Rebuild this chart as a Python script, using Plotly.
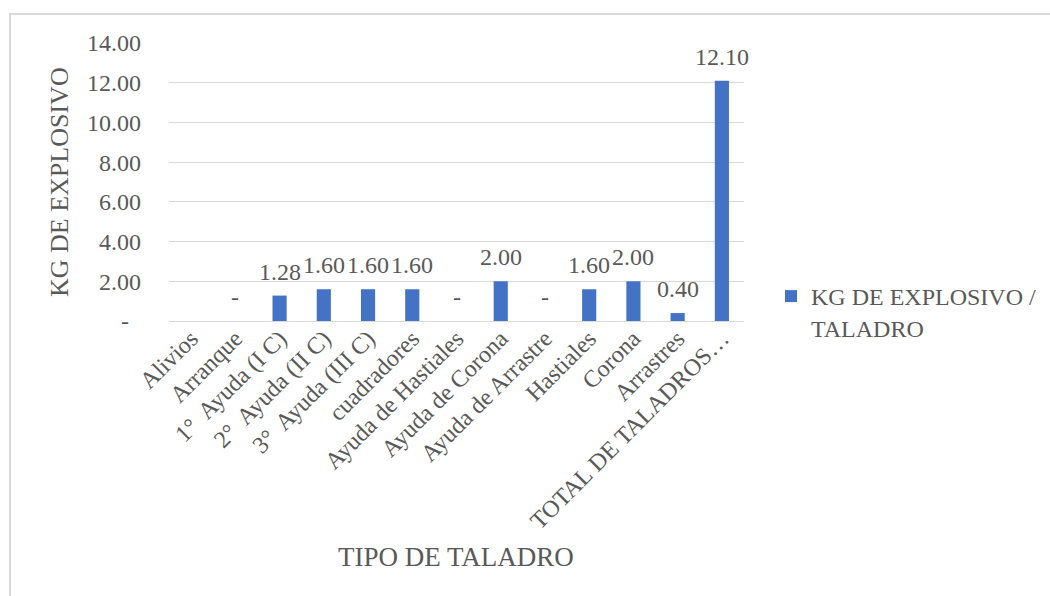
import plotly.graph_objects as go

categories = [
    "Alivios", "Arranque", "1°  Ayuda (I C)", "2°  Ayuda (II C)", "3°  Ayuda (III C)",
    "cuadradores", "Ayuda de Hastiales", "Ayuda de Corona", "Ayuda de Arrastre",
    "Hastiales", "Corona", "Arrastres", "TOTAL DE TALADROS…",
]
kg_per_hole = [None, 0.0, 1.28, 1.60, 1.60, 1.60, 0.0, 2.00, 0.0, 1.60, 2.00, 0.40, 12.10]

y_tick_vals = [0, 2, 4, 6, 8, 10, 12, 14]
y_tick_text = ["-\u00a0\u00a0", "2.00", "4.00", "6.00", "8.00", "10.00", "12.00", "14.00"]

series_name = "KG DE EXPLOSIVO /<br>TALADRO"

BAR = "#4472C4"
TXT = "#595959"
GRID = "#D9D9D9"
FONT = "Times New Roman, Liberation Serif, DejaVu Serif, serif"


def fmt(v):
    if v == 0:
        return "-"
    return f"{v:.2f}"


fig = go.Figure()
fig.add_trace(go.Bar(
    x=categories,
    y=kg_per_hole,
    name=series_name,
    marker=dict(color=BAR, line=dict(width=0)),
    width=0.32,
    showlegend=True,
))

# value labels above each bar (blank category gets none)
value_labels = [
    dict(
        x=cat, y=val, xref="x", yref="y",
        text=fmt(val), showarrow=False,
        xanchor="center", yanchor="bottom", yshift=9,
        font=dict(family=FONT, size=24, color=TXT),
    )
    for cat, val in zip(categories, kg_per_hole) if val is not None
]

fig.update_layout(
    width=1050,
    height=596,
    margin=dict(l=169, r=306, t=43, b=275, autoexpand=False),
    paper_bgcolor="white",
    plot_bgcolor="white",
    font=dict(family=FONT, color=TXT),
    xaxis=dict(
        type="category",
        categoryorder="array",
        categoryarray=categories,
        range=[-0.5, len(categories) - 0.5],
        tickangle=-45,
        tickfont=dict(family=FONT, size=24, color=TXT),
        showgrid=False,
        showline=True,
        linecolor=GRID,
        linewidth=1,
        ticks="",
        ticklabelstandoff=-7,
        automargin=False,
    ),
    yaxis=dict(
        range=[0, 14],
        tickvals=y_tick_vals,
        ticktext=y_tick_text,
        tickfont=dict(family=FONT, size=24, color=TXT),
        showgrid=True,
        gridcolor=GRID,
        gridwidth=1,
        zeroline=False,
        showline=False,
        ticks="",
        ticklabelstandoff=27,
        automargin=False,
    ),
    legend=dict(
        x=(771 - 169) / 575,
        y=(321 - 274) / 278,
        xanchor="left",
        yanchor="top",
        valign="top",
        font=dict(family=FONT, size=24, color=TXT),
        itemwidth=30,
        bgcolor="rgba(0,0,0,0)",
    ),
    annotations=value_labels + [
        dict(
            text="KG DE EXPLOSIVO", textangle=-90,
            xref="paper", yref="paper",
            x=(59 - 169) / 575, y=(321 - 182) / 278,
            xanchor="center", yanchor="middle", showarrow=False,
            font=dict(family=FONT, size=26, color=TXT),
        ),
        dict(
            text="TIPO DE TALADRO",
            xref="paper", yref="paper",
            x=(456 - 169) / 575, y=(321 - 557) / 278,
            xanchor="center", yanchor="middle", showarrow=False,
            font=dict(family=FONT, size=27, color=TXT),
        ),
    ],
    shapes=[
        dict(
            type="rect", xref="paper", yref="paper",
            x0=(10 - 169) / 575, x1=(1060 - 169) / 575,
            y0=-1.2, y1=(321 - 14) / 278,
            line=dict(color=GRID, width=2), fillcolor="rgba(0,0,0,0)",
            layer="below",
        ),
    ],
)

fig.write_html("out.html")
